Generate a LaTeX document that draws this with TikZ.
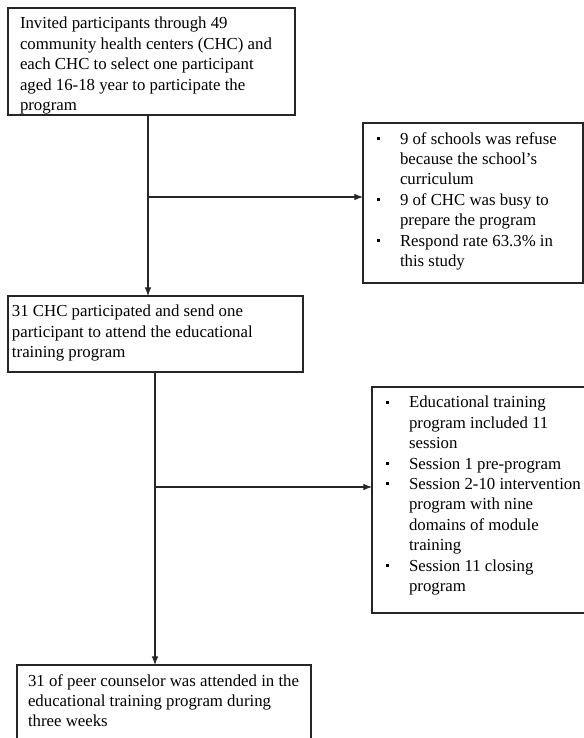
\documentclass[tikz,border=0pt]{standalone}
\usepackage{fontspec}
\setmainfont{Liberation Serif}
\usetikzlibrary{arrows.meta}
\newcommand{\stagetext}[3]{\parbox[t][#2][t]{#1}{\raggedright #3}}
\newcommand{\sqitem}[1]{\par\hangindent=18.75pt\hangafter=1\noindent\makebox[18.75pt][l]{\hspace{1.2pt}\rule[3.2pt]{2.4pt}{2.4pt}}#1}

\begin{document}
\begin{tikzpicture}[x=0.75pt, y=-0.75pt,
		stage/.style={draw=black!85, line width=1.1pt, anchor=north west, inner ysep=7pt, inner xsep=9pt, outer sep=0pt, font=\fontsize{12.6}{15.3}\selectfont},
		flow/.style={draw=black!85, line width=0.8pt, -{Latex[length=6.5pt,width=5pt]}}]
			%%%%% START %%%%%
			
			\useasboundingbox (0, 0) rectangle (584, 738);
			\clip (0, 0) rectangle (584, 738);
			
			\node[stage] (invite) at (8, 8) {\stagetext{197.25pt}{66.25pt}{Invited participants through 49\\ community health centers (CHC) and\\ each CHC to select one participant\\ aged 16-18 year to participate the\\ program}};
			
			\node[stage] (refuse) at (363, 123) {\stagetext{147pt}{106pt}{\sqitem{9 of schools was refuse\newline because the school's\newline curriculum}\sqitem{9 of CHC was busy to\newline prepare the program}\sqitem{Respond rate 63.3\% in\newline this study}}};
			
			\node[stage, inner xsep=3pt] (attend) at (8, 296) {\stagetext{215.25pt}{43pt}{31 CHC participated and send one\\ participant to attend the educational\\ training program}};
			
			\node[stage] (session) at (372, 387) {\stagetext{153pt}{155.5pt}{\sqitem{Educational training\newline program included 11\newline session}\sqitem{Session 1 pre-program}\sqitem{Session 2-10 intervention\newline program with nine\newline domains of module\newline training}\sqitem{Session 11 closing\newline program}}};
			
			\node[stage, inner xsep=8.25pt] (counselor) at (17, 665) {\stagetext{204pt}{57.25pt}{31 of peer counselor was attended in the\\ educational training program during\\ three weeks}};
			
			\coordinate (split1) at (148, 197);
			\coordinate (split2) at (155, 487);
			
			\draw[flow] (invite.south -| split1) -- (attend.north -| split1);
			\draw[flow] (split1) -- (split1 -| refuse.west);
			
			\draw[flow] (attend.south -| split2) -- (counselor.north -| split2);
			\draw[flow] (split2) -- (split2 -| session.west);
			
			%%%%% END %%%%%
\end{tikzpicture}
\end{document}
